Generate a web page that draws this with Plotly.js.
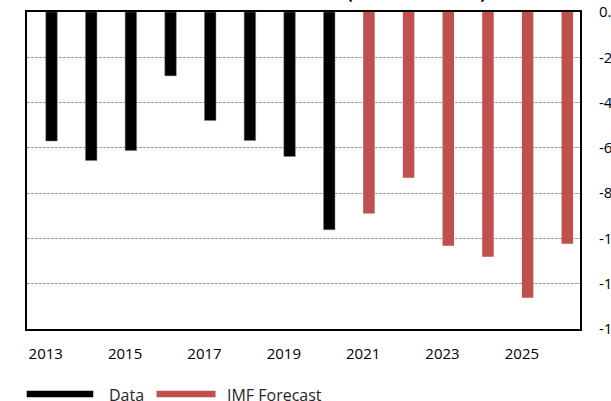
<!DOCTYPE html>
<html>
<head>
<meta charset="utf-8">
<script src="https://cdn.plot.ly/plotly-3.0.1.min.js"></script>
<style>html,body{margin:0;padding:0;background:#fff;overflow:hidden}#chart{width:611px;height:401px}</style>
</head>
<body>
<div id="chart"></div>
<script>
// Data
const dataYears = [2013, 2014, 2015, 2016, 2017, 2018, 2019, 2020];
const dataValues = [-5.70, -6.56, -6.12, -2.82, -4.79, -5.67, -6.38, -9.62];
const forecastYears = [2021, 2022, 2023, 2024, 2025, 2026];
const forecastValues = [-8.90, -7.32, -10.32, -10.81, -12.62, -10.23];
const xTickYears = [2013, 2015, 2017, 2019, 2021, 2023, 2025];
const yTickValues = [0, -2, -4, -6, -8, -10, -12, -14];
const yTickLabels = ["0.0", "-2.0", "-4.0", "-6.0", "-8.0", "-10.0", "-12.0", "-14.0"];
const seriesNames = ["Data", "IMF Forecast"];
const titleText = "Fiscal Balance (Percent of GDP)";

const FONT = "Open Sans, Noto Sans, Liberation Sans, sans-serif";
const L = 27, R = 30.5, T = 12, B = 72, W = 611, H = 401;
const pw = W - L - R, ph = H - T - B;
const px = v => (v - L) / pw;
const py = v => (H - B - v) / ph;

const traces = [
  {type: 'bar', x: dataYears, y: dataValues, name: seriesNames[0],
   width: 0.29, offset: 0, marker: {color: '#000000', line: {color: '#7f7f7f', width: 0.5}},
   showlegend: false, hoverinfo: 'x+y'},
  {type: 'bar', x: forecastYears, y: forecastValues, name: seriesNames[1],
   width: 0.29, offset: 0, marker: {color: '#C0504D', line: {width: 0}},
   showlegend: false, hoverinfo: 'x+y'}
];

const layout = {
  width: W, height: H,
  margin: {l: L, r: R, t: T, b: B, pad: 0},
  paper_bgcolor: '#ffffff', plot_bgcolor: '#ffffff',
  showlegend: false,
  barmode: 'overlay',
  font: {family: FONT, size: 15, color: '#000000'},
  xaxis: {
    type: 'linear', range: [2012.527, 2026.465],
    tickmode: 'array', tickvals: xTickYears, ticktext: xTickYears.map(String),
    ticks: '', showgrid: false, zeroline: false,
    showline: true, mirror: true, linecolor: '#000000', linewidth: 2,
    tickfont: {family: FONT, size: 15, color: '#000000'},
    ticklabelstandoff: 10
  },
  yaxis: {
    side: 'right', range: [-14, 0],
    tickmode: 'array', tickvals: yTickValues, ticktext: yTickLabels,
    ticks: '', showgrid: true, gridcolor: '#9a9a9a', gridwidth: 1, griddash: '3px,1px',
    zeroline: false,
    showline: true, mirror: true, linecolor: '#000000', linewidth: 2,
    tickfont: {family: FONT, size: 15, color: '#000000'},
    ticklabelstandoff: 14
  },
  shapes: [
    {type: 'line', xref: 'paper', yref: 'paper', x0: px(26.7), x1: px(93.3), y0: py(394), y1: py(394),
     line: {color: '#000000', width: 6.5}},
    {type: 'line', xref: 'paper', yref: 'paper', x0: px(156.7), x1: px(215.7), y0: py(394), y1: py(394),
     line: {color: '#C0504D', width: 6.5}}
  ],
  annotations: [
    {xref: 'paper', yref: 'paper', x: px(107), y: py(394.5), xanchor: 'left', yanchor: 'middle',
     text: seriesNames[0], showarrow: false, font: {family: FONT, size: 16, color: '#262626'}},
    {xref: 'paper', yref: 'paper', x: px(225.5), y: py(394.5), xanchor: 'left', yanchor: 'middle',
     text: seriesNames[1], showarrow: false, font: {family: FONT, size: 16, color: '#262626'}},
    {xref: 'paper', yref: 'paper', x: px(488), y: py(6), xanchor: 'right', yanchor: 'bottom',
     text: '<b>' + titleText + '</b>', showarrow: false, font: {family: FONT, size: 17, color: '#000000'}}
  ]
};

Plotly.newPlot('chart', traces, layout, {displayModeBar: false, staticPlot: true});
</script>
</body>
</html>
